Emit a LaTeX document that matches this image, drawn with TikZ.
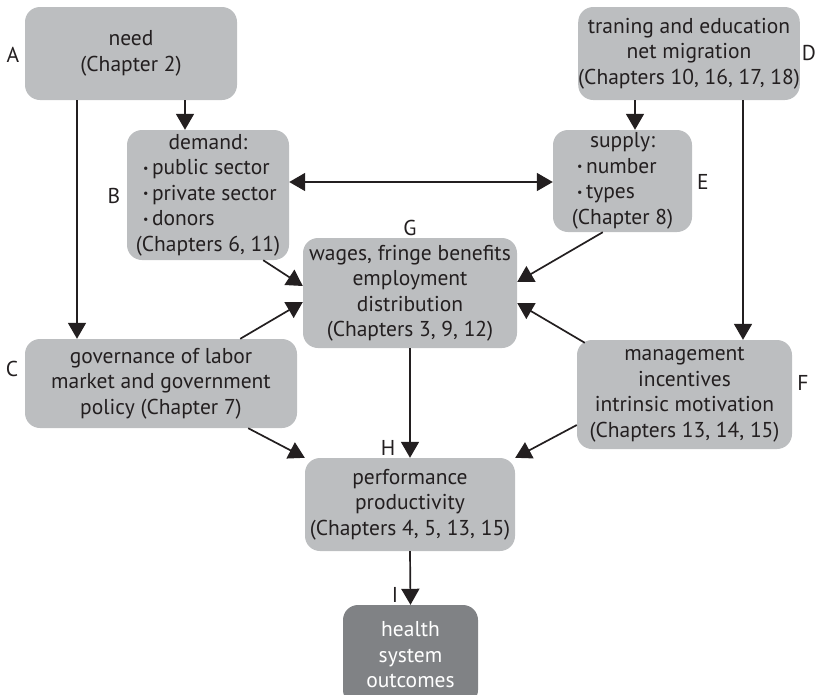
\documentclass[tikz,border=0pt]{standalone}
\usepackage{fontspec}
\setmainfont{PT Sans}
\definecolor{boxgray}{HTML}{BCBEC0}
\definecolor{outgray}{HTML}{808285}
\definecolor{inkblack}{HTML}{231F20}
\usetikzlibrary{arrows.meta, positioning}
\newcommand{\drop}[3]
{
	\draw[link] ([xshift=#1]#2.south) -- ([xshift=#1]#2.south |- #3.north)
}
\newcommand{\bul}{\raisebox{0.12em}{\fontsize{12}{12}\selectfont\textbullet}}
\newcommand{\bitem}[2]{\makebox[#1][l]{\bul\,#2}}

\begin{document}
\begin{tikzpicture}[x=1pt, y=-1pt,
every node/.append style={text=inkblack, font=\fontsize{21.5}{25.5}\selectfont},
box/.style={rectangle, rounded corners=15pt, fill=boxgray, align=center, inner sep=0pt},
link/.style={line width=1.7pt, draw=inkblack, -{Triangle[length=16pt,width=18pt]}},
twolink/.style={link, {Triangle[length=16pt,width=18pt]}-{Triangle[length=16pt,width=18pt]}},
tag/.style={inner sep=0pt}]

\useasboundingbox (0,0) rectangle (819,694);

\node[box, minimum width=212pt, minimum height=93pt] at (131, 53.5) (A){need\\(Chapter 2)};
\node[box, minimum width=162pt, minimum height=130pt] at (208, 195) (B){demand:\\\bitem{130pt}{public sector}\\\bitem{130pt}{private sector}\\\bitem{130pt}{donors}\\(Chapters 6, 11)};
\node[box, minimum width=272pt, minimum height=89pt] at (161, 383.5) (C){governance of labor\\market and government\\policy (Chapter 7)};
\node[box, minimum width=219pt, minimum height=93pt] at (689, 53.5) (D){traning and education\\net migration\\(Chapters 10, 16, 17, 18)};
\node[box, minimum width=139pt, minimum height=102pt] at (622.5, 181) (E){supply:\\\bitem{91pt}{number}\\\bitem{91pt}{types}\\(Chapter 8)};
\node[box, minimum width=215pt, minimum height=109pt] at (684.5, 394.5) (F){management\\incentives\\intrinsic motivation\\(Chapters 13, 14, 15)};
\node[box, minimum width=214pt, minimum height=110pt] at (410, 293) (G){wages, fringe benefits\\employment\\distribution\\(Chapters 3, 9, 12)};
\node[box, minimum width=210pt, minimum height=93pt] at (410, 504.5) (H){performance\\productivity\\(Chapters 4, 5, 13, 15)};
\node[box, fill=outgray, text=white, minimum width=135pt, minimum height=100pt] at (410.5, 655) (I){health\\system\\outcomes};

\node[tag] at (13, 55) (tA){A};
\node[tag] at (114, 196) (tB){B};
\node[tag] at (12, 369) (tC){C};
\node[tag] at (809, 53) (tD){D};
\node[tag] at (703, 182) (tE){E};
\node[tag] at (803, 383) (tF){F};
\node[tag] at (410, 228) (tG){G};
\node[tag] at (388, 448) (tH){H};
\node[tag] at (395, 595) (tI){I};

\drop{54pt}{A}{B};
\drop{-54pt}{A}{C};
\drop{-54pt}{D}{E};
\drop{54pt}{D}{F};
\draw[twolink] ([yshift=13pt]B.east) -- ([yshift=13pt]B.east -| E.west);
\draw[link] ([xshift=-26pt]B.south east) -- ([yshift=7pt]G.west);
\draw[link] ([xshift=-57pt]C.north east) -- ([yshift=-9pt]G.west);
\draw[link] ([xshift=50pt]E.south west) -- ([yshift=11pt]G.east);
\draw[link] ([xshift=8pt, yshift=-3pt]F.north west) -- ([yshift=-10pt]G.east);
\draw[link] ([xshift=-49pt]C.south east) -- (H.north west);
\draw[link] ([yshift=-30.5pt]F.west) -- (H.north east);
\draw[link] (G.south) -- (H.north);
\draw[link] (H.south) -- (I.north);
\end{tikzpicture}
\end{document}
